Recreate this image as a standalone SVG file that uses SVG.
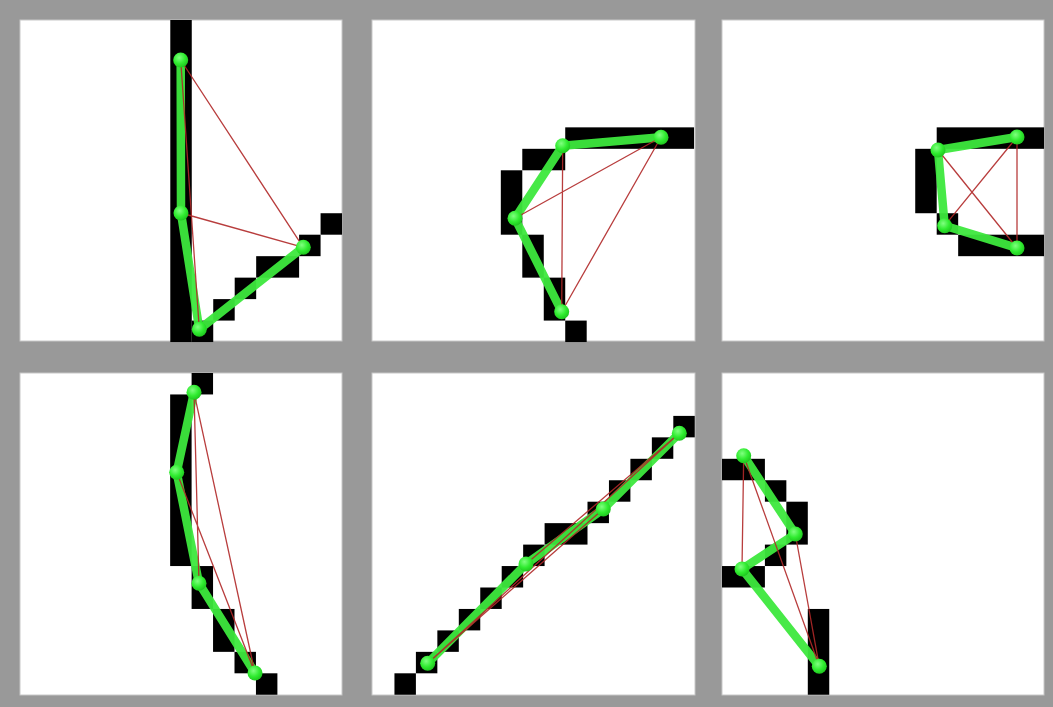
<svg xmlns="http://www.w3.org/2000/svg" width="1053" height="707" viewBox="0 0 1053 707">
<style>
.bg{fill:#999999}
.panel{fill:#ffffff;stroke:#c8c8c8;stroke-width:1}
.px{fill:#000000}
.bone{stroke:#3de83d;stroke-width:8.5;stroke-linecap:round;stroke-linejoin:round;fill:none;opacity:0.95}
.tie{stroke:#b02828;stroke-width:1.3;fill:none;opacity:0.9}
.joint{fill:url(#ball)}
</style>
<defs>
<radialGradient id="ball" cx="0.4" cy="0.35" r="0.65">
<stop offset="0" stop-color="#80ff80"/>
<stop offset="0.6" stop-color="#30ec30"/>
<stop offset="1" stop-color="#20c820"/>
</radialGradient>
</defs>
<rect class="bg" x="0" y="0" width="1053" height="707"/>
<g id="panels">
<rect class="panel" x="20" y="20" width="322" height="321"/>
<rect class="panel" x="372" y="20" width="323" height="321"/>
<rect class="panel" x="722" y="20" width="322" height="321"/>
<rect class="panel" x="20" y="373" width="322" height="322"/>
<rect class="panel" x="372" y="373" width="323" height="322"/>
<rect class="panel" x="722" y="373" width="322" height="322"/>
</g>
<g id="pixels">
<g transform="translate(20,20) scale(21.47)">
<rect class="px" x="7" y="0" width="1" height="15"/>
<rect class="px" x="8" y="14" width="1" height="1"/>
<rect class="px" x="9" y="13" width="1" height="1"/>
<rect class="px" x="10" y="12" width="1" height="1"/>
<rect class="px" x="11" y="11" width="2" height="1"/>
<rect class="px" x="13" y="10" width="1" height="1"/>
<rect class="px" x="14" y="9" width="1" height="1"/>
</g>
<g transform="translate(372,20) scale(21.47)">
<rect class="px" x="9" y="5" width="6" height="1"/>
<rect class="px" x="7" y="6" width="2" height="1"/>
<rect class="px" x="6" y="7" width="1" height="3"/>
<rect class="px" x="7" y="10" width="1" height="2"/>
<rect class="px" x="8" y="12" width="1" height="2"/>
<rect class="px" x="9" y="14" width="1" height="1"/>
</g>
<g transform="translate(722,20) scale(21.47)">
<rect class="px" x="10" y="5" width="5" height="1"/>
<rect class="px" x="9" y="6" width="1" height="3"/>
<rect class="px" x="10" y="9" width="1" height="1"/>
<rect class="px" x="11" y="10" width="4" height="1"/>
</g>
<g transform="translate(20,373) scale(21.45)">
<rect class="px" x="8" y="0" width="1" height="1"/>
<rect class="px" x="7" y="1" width="1" height="8"/>
<rect class="px" x="8" y="9" width="1" height="2"/>
<rect class="px" x="9" y="11" width="1" height="2"/>
<rect class="px" x="10" y="13" width="1" height="1"/>
<rect class="px" x="11" y="14" width="1" height="1"/>
</g>
<g transform="translate(373,373) scale(21.45)">
<rect class="px" x="1" y="14" width="1" height="1"/>
<rect class="px" x="2" y="13" width="1" height="1"/>
<rect class="px" x="3" y="12" width="1" height="1"/>
<rect class="px" x="4" y="11" width="1" height="1"/>
<rect class="px" x="5" y="10" width="1" height="1"/>
<rect class="px" x="6" y="9" width="1" height="1"/>
<rect class="px" x="7" y="8" width="1" height="1"/>
<rect class="px" x="8" y="7" width="2" height="1"/>
<rect class="px" x="10" y="6" width="1" height="1"/>
<rect class="px" x="11" y="5" width="1" height="1"/>
<rect class="px" x="12" y="4" width="1" height="1"/>
<rect class="px" x="13" y="3" width="1" height="1"/>
<rect class="px" x="14" y="2" width="1" height="1"/>
</g>
<g transform="translate(722,373) scale(21.45)">
<rect class="px" x="0" y="4" width="2" height="1"/>
<rect class="px" x="2" y="5" width="1" height="1"/>
<rect class="px" x="3" y="6" width="1" height="2"/>
<rect class="px" x="2" y="8" width="1" height="1"/>
<rect class="px" x="0" y="9" width="2" height="1"/>
<rect class="px" x="4" y="11" width="1" height="4"/>
</g>
</g>
<g id="connectors">
<polyline class="bone" points="180.7,60 181,213 199.3,329.3 303.3,247.3"/>
<polyline class="bone" points="661,137.3 562.7,145.7 515,218.3 561.7,311.7"/>
<polyline class="bone" points="1017,137 938,150 944.7,225.7 1017,248"/>
<polyline class="bone" points="194,392.3 176.7,472.3 199,583.3 255,673"/>
<polyline class="bone" points="427.7,663.3 526,564 603.3,509 679.3,433.3"/>
<polyline class="bone" points="743.7,455.7 795.3,534 742,569 819.3,666.3"/>
<path class="tie" d="M180.7,60 L199.3,329.3 M180.7,60 L303.3,247.3 M181,213 L303.3,247.3"/>
<path class="tie" d="M661,137.3 L515,218.3 M661,137.3 L561.7,311.7 M562.7,145.7 L561.7,311.7"/>
<path class="tie" d="M1017,137 L944.7,225.7 M1017,137 L1017,248 M938,150 L1017,248"/>
<path class="tie" d="M194,392.3 L199,583.3 M194,392.3 L255,673 M176.7,472.3 L255,673"/>
<path class="tie" d="M427.7,663.3 L603.3,509 M427.7,663.3 L679.3,433.3 M526,564 L679.3,433.3"/>
<path class="tie" d="M743.7,455.7 L742,569 M743.7,455.7 L819.3,666.3 M795.3,534 L819.3,666.3"/>
</g>
<g id="p1n1"><circle class="joint" cx="180.7" cy="60" r="7.5"/></g>
<g id="p1n2"><circle class="joint" cx="181" cy="213" r="7.5"/></g>
<g id="p1n3"><circle class="joint" cx="199.3" cy="329.3" r="7.5"/></g>
<g id="p1n4"><circle class="joint" cx="303.3" cy="247.3" r="7.5"/></g>
<g id="p2n1"><circle class="joint" cx="661" cy="137.3" r="7.5"/></g>
<g id="p2n2"><circle class="joint" cx="562.7" cy="145.7" r="7.5"/></g>
<g id="p2n3"><circle class="joint" cx="515" cy="218.3" r="7.5"/></g>
<g id="p2n4"><circle class="joint" cx="561.7" cy="311.7" r="7.5"/></g>
<g id="p3n1"><circle class="joint" cx="1017" cy="137" r="7.5"/></g>
<g id="p3n2"><circle class="joint" cx="938" cy="150" r="7.5"/></g>
<g id="p3n3"><circle class="joint" cx="944.7" cy="225.7" r="7.5"/></g>
<g id="p3n4"><circle class="joint" cx="1017" cy="248" r="7.5"/></g>
<g id="p4n1"><circle class="joint" cx="194" cy="392.3" r="7.5"/></g>
<g id="p4n2"><circle class="joint" cx="176.7" cy="472.3" r="7.5"/></g>
<g id="p4n3"><circle class="joint" cx="199" cy="583.3" r="7.5"/></g>
<g id="p4n4"><circle class="joint" cx="255" cy="673" r="7.5"/></g>
<g id="p5n1"><circle class="joint" cx="427.7" cy="663.3" r="7.5"/></g>
<g id="p5n2"><circle class="joint" cx="526" cy="564" r="7.5"/></g>
<g id="p5n3"><circle class="joint" cx="603.3" cy="509" r="7.5"/></g>
<g id="p5n4"><circle class="joint" cx="679.3" cy="433.3" r="7.5"/></g>
<g id="p6n1"><circle class="joint" cx="743.7" cy="455.7" r="7.5"/></g>
<g id="p6n2"><circle class="joint" cx="795.3" cy="534" r="7.5"/></g>
<g id="p6n3"><circle class="joint" cx="742" cy="569" r="7.5"/></g>
<g id="p6n4"><circle class="joint" cx="819.3" cy="666.3" r="7.5"/></g>
</svg>
